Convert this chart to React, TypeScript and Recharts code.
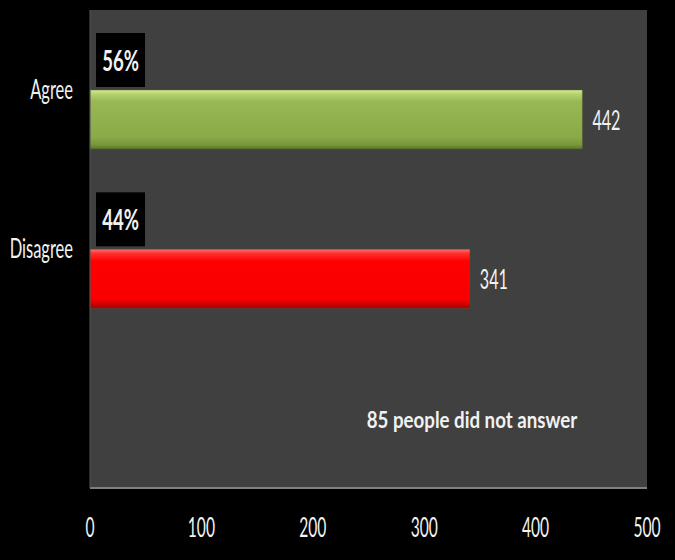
import React from "react";
import { BarChart, Bar, XAxis, YAxis, CartesianGrid, Cell, LabelList, Customized } from "recharts";

const categories = ["Agree", "Disagree", ""];
const counts: (number | null)[] = [442, 341, null];
const percents: (string | null)[] = ["56%", "44%", null];
const pctBase: (number | null)[] = [56, 44, null];
const xTicks = [0, 100, 200, 300, 400, 500];
const barColors = ["url(#gradGreen)", "url(#gradRed)", "none"];
const note = "85 people did not answer";

const data = categories.map((name, i) => ({
  name,
  count: counts[i],
  pct: pctBase[i],
  pctLabel: percents[i],
}));

const FONT = "Lato, 'Open Sans', sans-serif";

const SText = ({ x, y, anchor = "middle", size = 25, weight = 400, sx = 0.64, children }: any) => (
  <g transform={`translate(${x},${y}) scale(${sx},1)`}>
    <text x={0} y={0} textAnchor={anchor} fontSize={size} fontWeight={weight} fill="#f2f2f2" fontFamily={FONT}>
      {children}
    </text>
  </g>
);

const XTick = (props: any) => {
  const { x, y, payload } = props;
  return <SText x={x} y={y + 41} size={26} sx={0.6}>{payload.value}</SText>;
};

const YTick = (props: any) => {
  const { y, payload } = props;
  if (!payload.value) return null;
  return <SText x={73} y={y + 9} anchor="end" size={27.5} sx={0.6}>{payload.value}</SText>;
};

const ValueLabel = (props: any) => {
  const { x, y, width, height, value } = props;
  if (value == null) return null;
  return <SText x={x + width + 10} y={y + height / 2 + 10} anchor="start" size={26} sx={0.62}>{value}</SText>;
};

const PctLabel = (props: any) => {
  const { x, y, index } = props;
  const label = percents[index];
  if (!label) return null;
  return (
    <g>
      <rect x={x + 6} y={y + 2} width={49} height={54} fill="#000" />
      <SText x={x + 30.5} y={y + 40} size={29} weight={700} sx={0.64}>{label}</SText>
    </g>
  );
};

const Note = () => (
  <SText x={472} y={428} size={22} weight={700} sx={0.85}>{note}</SText>
);

export default function App() {
  return (
    <div style={{ position: "absolute", left: 0, top: 0, width: 675, height: 560, background: "#000" }}>
      <BarChart
        width={675}
        height={560}
        data={data}
        layout="vertical"
        margin={{ top: 10, right: 28, bottom: 0, left: 0 }}
        barGap={0}
        barSize={59}
      >
        <defs>
          <linearGradient id="gradGreen" x1="0" y1="0" x2="0" y2="1">
            <stop offset="0%" stopColor="#d2ec92" />
            <stop offset="7%" stopColor="#b4d26c" />
            <stop offset="20%" stopColor="#98b855" />
            <stop offset="80%" stopColor="#8aaa48" />
            <stop offset="93%" stopColor="#78963c" />
            <stop offset="100%" stopColor="#5a7428" />
          </linearGradient>
          <linearGradient id="gradRed" x1="0" y1="0" x2="0" y2="1">
            <stop offset="0%" stopColor="#ff7070" />
            <stop offset="7%" stopColor="#ff3030" />
            <stop offset="20%" stopColor="#ff0000" />
            <stop offset="85%" stopColor="#f80000" />
            <stop offset="100%" stopColor="#a80000" />
          </linearGradient>
        </defs>
        <CartesianGrid horizontal={false} vertical={false} fill="#404040" stroke="none" />
        <XAxis
          type="number"
          domain={[0, 500]}
          ticks={xTicks}
          height={72}
          axisLine={{ stroke: "#808080", strokeWidth: 2 }}
          tickLine={false}
          tick={<XTick />}
          interval={0}
        />
        <YAxis
          type="category"
          dataKey="name"
          width={90}
          axisLine={{ stroke: "#555555", strokeWidth: 1 }}
          tickLine={false}
          tick={<YTick />}
          interval={0}
        />
        <Bar dataKey="pct" fill="none" isAnimationActive={false}>
          <LabelList dataKey="pct" content={<PctLabel />} />
        </Bar>
        <Bar dataKey="count" isAnimationActive={false}>
          {data.map((d, i) => (
            <Cell key={i} fill={barColors[i]} stroke="#5a5a3a" strokeOpacity={0.4} />
          ))}
          <LabelList dataKey="count" content={<ValueLabel />} />
        </Bar>
        <Customized component={Note} />
      </BarChart>
    </div>
  );
}
